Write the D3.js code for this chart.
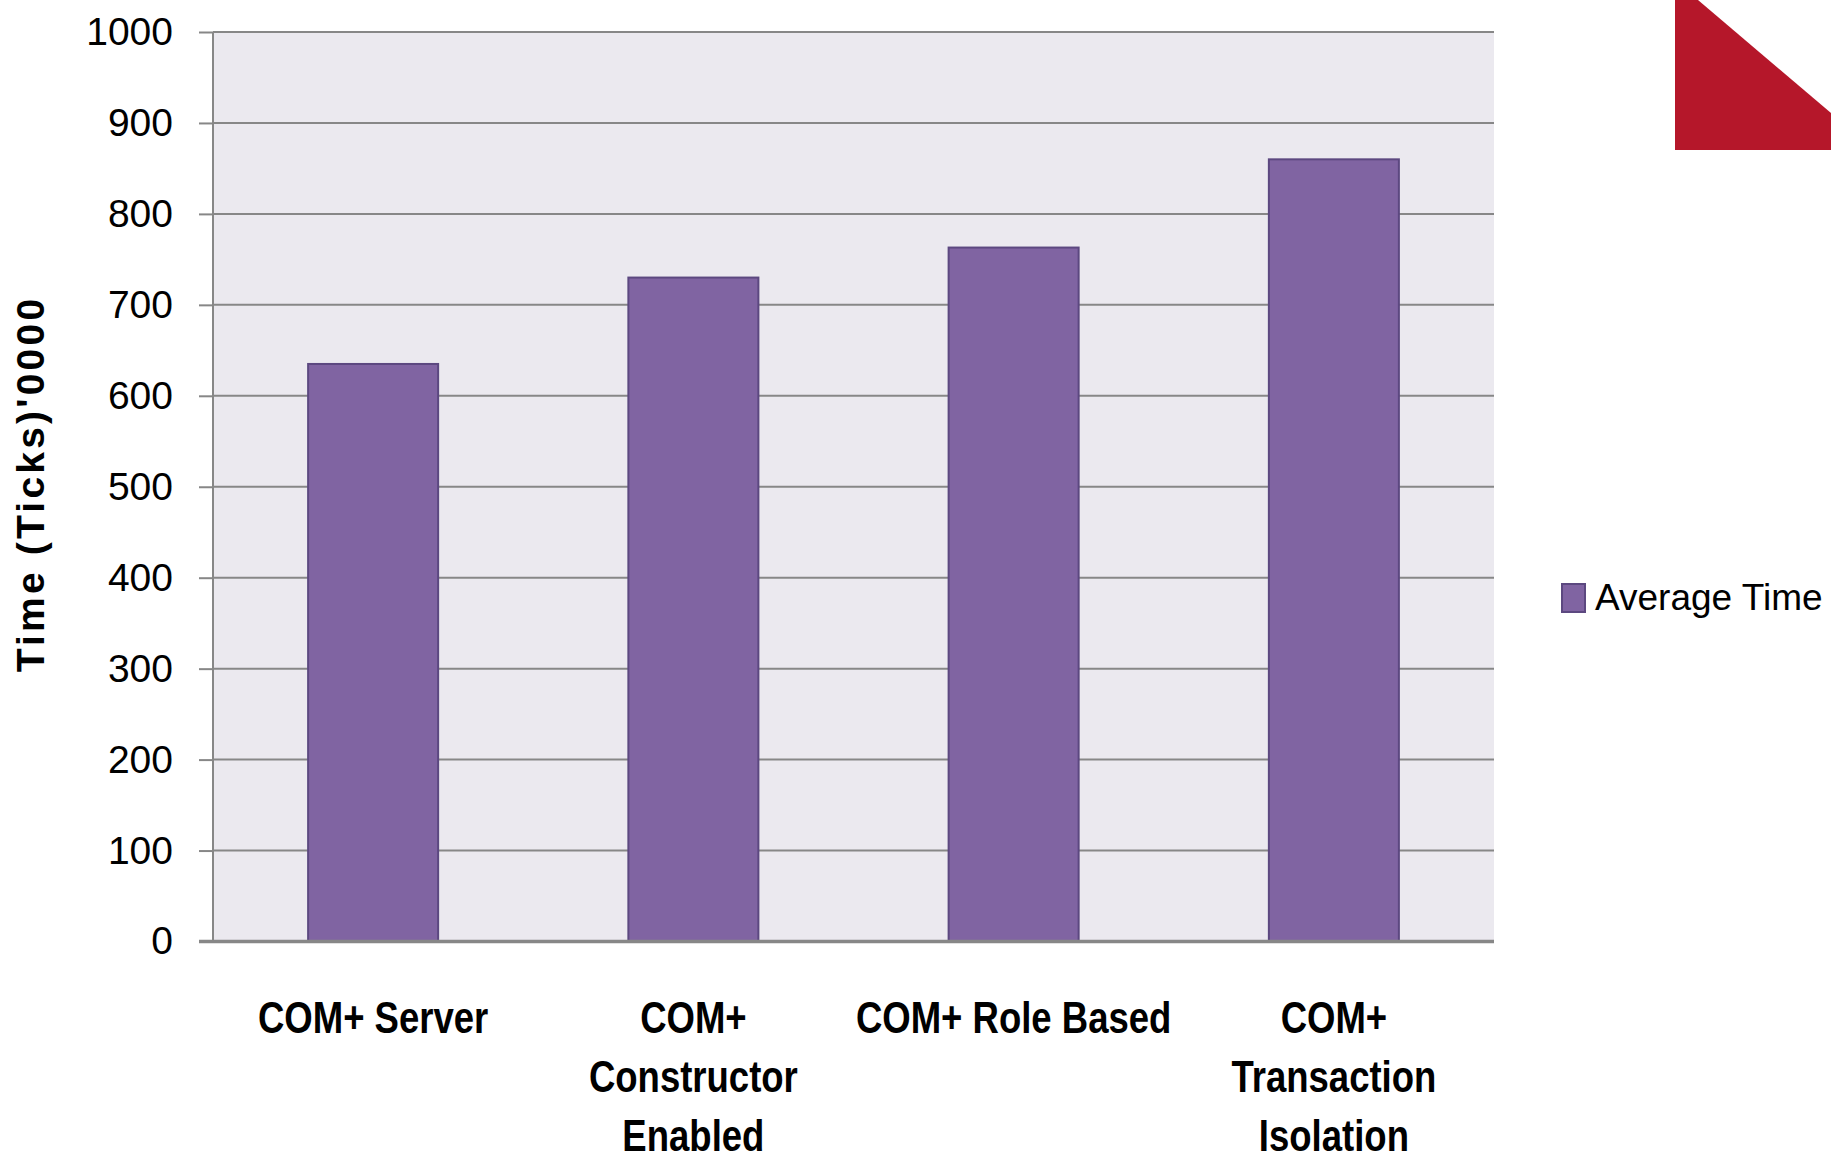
<!DOCTYPE html>
<html>
<head>
<meta charset="utf-8">
<script src="https://cdn.jsdelivr.net/npm/d3@7"></script>
<style>
  html, body { margin: 0; padding: 0; background: #ffffff; }
  svg { display: block; }
</style>
</head>
<body>
<svg id="chart" width="1831" height="1161"></svg>
<script>
// Average call time per COM+ configuration, in ticks ('0000)
const categories = [
  ["COM+ Server"],
  ["COM+", "Constructor", "Enabled"],
  ["COM+ Role Based"],
  ["COM+", "Transaction", "Isolation"]
];
const averageTime = [635, 730, 763, 860];
const yTicks = [0, 100, 200, 300, 400, 500, 600, 700, 800, 900, 1000];
const seriesName = "Average Time";
const yTitle = "Time (Ticks)'0000";

const svg = d3.select("#chart");

const plot = { left: 213, right: 1494, top: 32, bottom: 941.5 };

const x = d3.scaleBand()
  .domain(d3.range(categories.length))
  .range([plot.left, plot.right])
  .paddingInner(0.594)
  .paddingOuter(0.297);

const y = d3.scaleLinear()
  .domain([0, 1000])
  .range([plot.bottom, plot.top]);

// corner decoration
svg.append("polygon")
  .attr("points", "1675,0 1698,0 1831,113 1831,150 1675,150")
  .attr("fill", "#b5172a");

// plot background
svg.append("rect")
  .attr("x", plot.left).attr("y", plot.top)
  .attr("width", plot.right - plot.left)
  .attr("height", plot.bottom - plot.top)
  .attr("fill", "#ebe9ef");

// horizontal gridlines
svg.append("g")
  .selectAll("line")
  .data(yTicks.filter(d => d > 0))
  .join("line")
  .attr("x1", plot.left).attr("x2", plot.right)
  .attr("y1", d => y(d)).attr("y2", d => y(d))
  .attr("stroke", "#878787")
  .attr("stroke-width", 2);

// y axis with outward tick marks
const yAxis = d3.axisLeft(y)
  .tickValues(yTicks)
  .tickSize(14)
  .tickPadding(26)
  .tickFormat(d3.format("d"));

const yg = svg.append("g")
  .attr("transform", `translate(${plot.left},0)`)
  .call(yAxis);
yg.select(".domain")
  .attr("stroke", "#878787")
  .attr("stroke-width", 2)
  .attr("d", `M0,${plot.top}V${plot.bottom}`);
yg.selectAll(".tick line")
  .attr("stroke", "#878787")
  .attr("stroke-width", 2);
yg.selectAll(".tick text")
  .attr("fill", "#000")
  .attr("font-family", "'Liberation Sans', Arial, sans-serif")
  .attr("font-size", 39)
  .attr("dy", "0.32em");

// bars
svg.append("g")
  .selectAll("rect")
  .data(averageTime)
  .join("rect")
  .attr("x", (d, i) => x(i))
  .attr("y", d => y(d))
  .attr("width", x.bandwidth())
  .attr("height", d => y(0) - y(d))
  .attr("fill", "#8064a2")
  .attr("stroke", "#5c4880")
  .attr("stroke-width", 2);

// baseline
svg.append("line")
  .attr("x1", 199).attr("x2", plot.right)
  .attr("y1", plot.bottom).attr("y2", plot.bottom)
  .attr("stroke", "#878787")
  .attr("stroke-width", 3.5);

// category labels (condensed bold, horizontally compressed)
const xl = svg.append("g")
  .selectAll("text")
  .data(categories)
  .join("text")
  .attr("transform", (d, i) => `translate(${x(i) + x.bandwidth() / 2},1033) scale(0.83,1)`)
  .attr("text-anchor", "middle")
  .attr("font-family", "'Liberation Sans', Arial, sans-serif")
  .attr("font-weight", "bold")
  .attr("font-size", 44)
  .attr("fill", "#000");
xl.selectAll("tspan")
  .data(d => d)
  .join("tspan")
  .attr("x", 0)
  .attr("dy", (d, i) => i === 0 ? 0 : 59)
  .text(d => d);

// y axis title
svg.append("text")
  .attr("transform", "translate(44,484) rotate(-90)")
  .attr("text-anchor", "middle")
  .attr("font-family", "'Liberation Sans', Arial, sans-serif")
  .attr("font-weight", "bold")
  .attr("font-size", 39)
  .attr("letter-spacing", 3.2)
  .attr("fill", "#000")
  .text(yTitle);

// legend
const legend = svg.append("g").attr("transform", "translate(1561,583)");
legend.append("rect")
  .attr("x", 1).attr("y", 1)
  .attr("width", 23).attr("height", 28)
  .attr("fill", "#8064a2")
  .attr("stroke", "#5c4880")
  .attr("stroke-width", 2);
legend.append("text")
  .attr("x", 34).attr("y", 27)
  .attr("font-family", "'Liberation Sans', Arial, sans-serif")
  .attr("font-size", 37)
  .attr("fill", "#000")
  .text(seriesName);
</script>
</body>
</html>
